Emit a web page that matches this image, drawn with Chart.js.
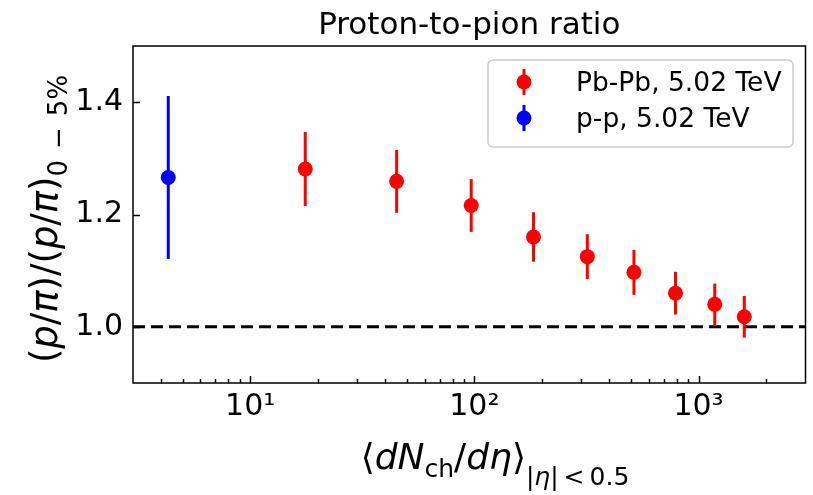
<!DOCTYPE html>
<html>
<head>
<meta charset="utf-8">
<script src="https://cdn.jsdelivr.net/npm/chart.js@4.4.1/dist/chart.umd.min.js"></script>
<style>
  html, body { margin: 0; padding: 0; background: #fff; }
  #wrap { width: 813px; height: 495px; }
</style>
</head>
<body>
<div id="wrap"><canvas id="ratioChart" width="813" height="495"></canvas></div>
<script>
// values
const pbpbMult = [17.6, 45.0, 96.8, 183.5, 319, 515, 789, 1181, 1600];
const pbpbRatio = [1.281, 1.259, 1.216, 1.160, 1.125, 1.097, 1.060, 1.040, 1.018];
const pbpbErr = [0.066, 0.056, 0.047, 0.044, 0.040, 0.040, 0.038, 0.037, 0.037];

const ppMult = [4.31];
const ppRatio = [1.266];
const ppErr = [0.145];

const xTickVals = [10, 100, 1000];
const xTickLabels = ['10\u00b9', '10\u00b2', '10\u00b3'];
const yTickVals = [1.0, 1.2, 1.4];

const FONT = '"DejaVu Sans", sans-serif';

function toPoints(xs, ys) {
    return xs.map((x, i) => ({ x: x, y: ys[i] }));
}

// draws a run of text pieces (used for sub/superscripted axis titles)
function drawRich(ctx, parts, cx, baseY) {
    let total = 0;
    parts.forEach(p => {
        ctx.font = p.font;
        p.w = ctx.measureText(p.text).width + 2 * (p.gap || 0);
        total += p.w;
    });
    let x = cx - total / 2;
    ctx.textAlign = 'left';
    ctx.textBaseline = 'alphabetic';
    parts.forEach(p => {
        ctx.font = p.font;
        ctx.fillText(p.text, x + (p.gap || 0), baseY + (p.dy || 0));
        x += p.w;
    });
}

const errorBars = {
    id: 'errorBars',
    beforeDatasetsDraw(chart) {
        const { ctx, scales: { x, y } } = chart;
        const sets = [
            { xs: pbpbMult, ys: pbpbRatio, es: pbpbErr, color: '#ff0000' },
            { xs: ppMult, ys: ppRatio, es: ppErr, color: '#0000ff' }
        ];
        ctx.save();
        // reference line at unity
        ctx.strokeStyle = '#000';
        ctx.lineWidth = 3;
        ctx.setLineDash([12, 6]);
        const y1 = y.getPixelForValue(1.0);
        ctx.beginPath();
        ctx.moveTo(chart.chartArea.left, y1);
        ctx.lineTo(chart.chartArea.right, y1);
        ctx.stroke();
        ctx.setLineDash([]);

        sets.forEach(s => {
            ctx.strokeStyle = s.color;
            ctx.lineWidth = 3;
            s.xs.forEach((xv, i) => {
                const px = x.getPixelForValue(xv);
                ctx.beginPath();
                ctx.moveTo(px, y.getPixelForValue(s.ys[i] - s.es[i]));
                ctx.lineTo(px, y.getPixelForValue(s.ys[i] + s.es[i]));
                ctx.stroke();
            });
        });
        ctx.restore();
    }
};

const frameAndLabels = {
    id: 'frameAndLabels',
    afterDraw(chart) {
        const { ctx, chartArea: a, scales: { x, y } } = chart;
        ctx.save();
        ctx.strokeStyle = '#000';
        ctx.lineWidth = 1.5;

        // inward ticks
        ctx.beginPath();
        xTickVals.forEach(v => {
            const px = Math.round(x.getPixelForValue(v)) + 0.5;
            ctx.moveTo(px, a.bottom);
            ctx.lineTo(px, a.bottom - 7);
        });
        for (let d = 1; d <= 1000; d *= 10) {
            for (let m = 2; m <= 9; m++) {
                const v = m * d;
                if (v <= x.min || v >= x.max) continue;
                const px = Math.round(x.getPixelForValue(v)) + 0.5;
                ctx.moveTo(px, a.bottom);
                ctx.lineTo(px, a.bottom - 4);
            }
        }
        yTickVals.forEach(v => {
            const py = Math.round(y.getPixelForValue(v)) + 0.5;
            ctx.moveTo(a.left, py);
            ctx.lineTo(a.left + 7, py);
        });
        ctx.stroke();

        // axes box
        ctx.strokeRect(a.left, a.top, a.right - a.left, a.bottom - a.top);

        // title, centred over the axes
        ctx.fillStyle = '#000';
        ctx.font = '31px ' + FONT;
        ctx.textAlign = 'center';
        ctx.textBaseline = 'alphabetic';
        ctx.fillText('Proton-to-pion ratio', (a.left + a.right) / 2, 34);

        // legend box
        const lx = 488, ly = 60, lw = 305, lh = 87;
        ctx.fillStyle = 'rgba(255,255,255,0.8)';
        ctx.strokeStyle = '#cccccc';
        ctx.lineWidth = 1.5;
        ctx.beginPath();
        ctx.roundRect(lx, ly, lw, lh, 5);
        ctx.fill();
        ctx.stroke();

        const entries = [
            { label: 'Pb-Pb, 5.02 TeV', color: '#ff0000', yc: 82 },
            { label: 'p-p, 5.02 TeV', color: '#0000ff', yc: 118 }
        ];
        entries.forEach(e => {
            ctx.strokeStyle = e.color;
            ctx.fillStyle = e.color;
            ctx.lineWidth = 3;
            ctx.beginPath();
            ctx.moveTo(524, e.yc - 13);
            ctx.lineTo(524, e.yc + 13);
            ctx.stroke();
            ctx.beginPath();
            ctx.arc(524, e.yc, 7.5, 0, Math.PI * 2);
            ctx.fill();
            ctx.fillStyle = '#000';
            ctx.font = '26.5px ' + FONT;
            ctx.textAlign = 'left';
            ctx.textBaseline = 'alphabetic';
            ctx.fillText(e.label, 576, e.yc + 9);
        });

        // axis titles
        ctx.fillStyle = '#000';
        const n = '36px ' + FONT, it = 'italic 36px ' + FONT;
        const sn = '25px ' + FONT, si = 'italic 25px ' + FONT;
        drawRich(ctx, [
            { text: '\u27e8', font: n },
            { text: 'dN', font: it },
            { text: 'ch', font: sn, dy: 8 },
            { text: '/', font: n },
            { text: 'd\u03b7', font: it },
            { text: '\u27e9', font: n },
            { text: '|', font: sn, dy: 16 },
            { text: '\u03b7', font: si, dy: 16 },
            { text: '|', font: sn, dy: 16 },
            { text: '<', font: sn, dy: 16, gap: 5 },
            { text: '0.5', font: sn, dy: 16 }
        ], 495, 469);

        const yn = '37px ' + FONT, yi = 'italic 37px ' + FONT;
        const ys = '26px ' + FONT;
        ctx.translate(56.5, 219);
        ctx.rotate(-Math.PI / 2);
        drawRich(ctx, [
            { text: '(', font: yn },
            { text: 'p', font: yi },
            { text: '/', font: yn },
            { text: '\u03c0', font: yi },
            { text: ')/(', font: yn },
            { text: 'p', font: yi },
            { text: '/', font: yn },
            { text: '\u03c0', font: yi },
            { text: ')', font: yn },
            { text: '0', font: ys, dy: 10 },
            { text: '\u2212', font: ys, dy: 10, gap: 11 },
            { text: '5%', font: ys, dy: 10 }
        ], 0, 0);
        ctx.restore();
    }
};

const ctx = document.getElementById('ratioChart').getContext('2d');
new Chart(ctx, {
    type: 'scatter',
    data: {
        datasets: [
            {
                label: 'Pb-Pb, 5.02 TeV',
                data: toPoints(pbpbMult, pbpbRatio),
                backgroundColor: '#ff0000',
                borderWidth: 0,
                pointRadius: 7.5
            },
            {
                label: 'p-p, 5.02 TeV',
                data: toPoints(ppMult, ppRatio),
                backgroundColor: '#0000ff',
                borderWidth: 0,
                pointRadius: 7.5
            }
        ]
    },
    options: {
        responsive: false,
        animation: false,
        layout: { padding: { left: 0, right: 6, top: 46, bottom: 0 } },
        plugins: {
            legend: { display: false },
            tooltip: { enabled: false },
            title: { display: false }
        },
        scales: {
            x: {
                type: 'logarithmic',
                min: 3,
                max: 3000,
                grid: { display: false, drawTicks: false },
                border: { display: false },
                afterBuildTicks: s => { s.ticks = xTickVals.map(v => ({ value: v })); },
                afterFit: s => { s.height = 112; },
                ticks: {
                    color: '#000',
                    font: { family: FONT, size: 30 },
                    padding: 6,
                    maxRotation: 0,
                    autoSkip: false,
                    callback: (v, i) => xTickLabels[i]
                }
            },
            y: {
                min: 0.9,
                max: 1.5,
                grid: { display: false, drawTicks: false },
                border: { display: false },
                afterBuildTicks: s => { s.ticks = yTickVals.map(v => ({ value: v })); },
                afterFit: s => { s.width = 133; },
                ticks: {
                    color: '#000',
                    font: { family: FONT, size: 30 },
                    padding: 10,
                    callback: v => Number(v).toFixed(1)
                }
            }
        }
    },
    plugins: [errorBars, frameAndLabels]
});
</script>
</body>
</html>
